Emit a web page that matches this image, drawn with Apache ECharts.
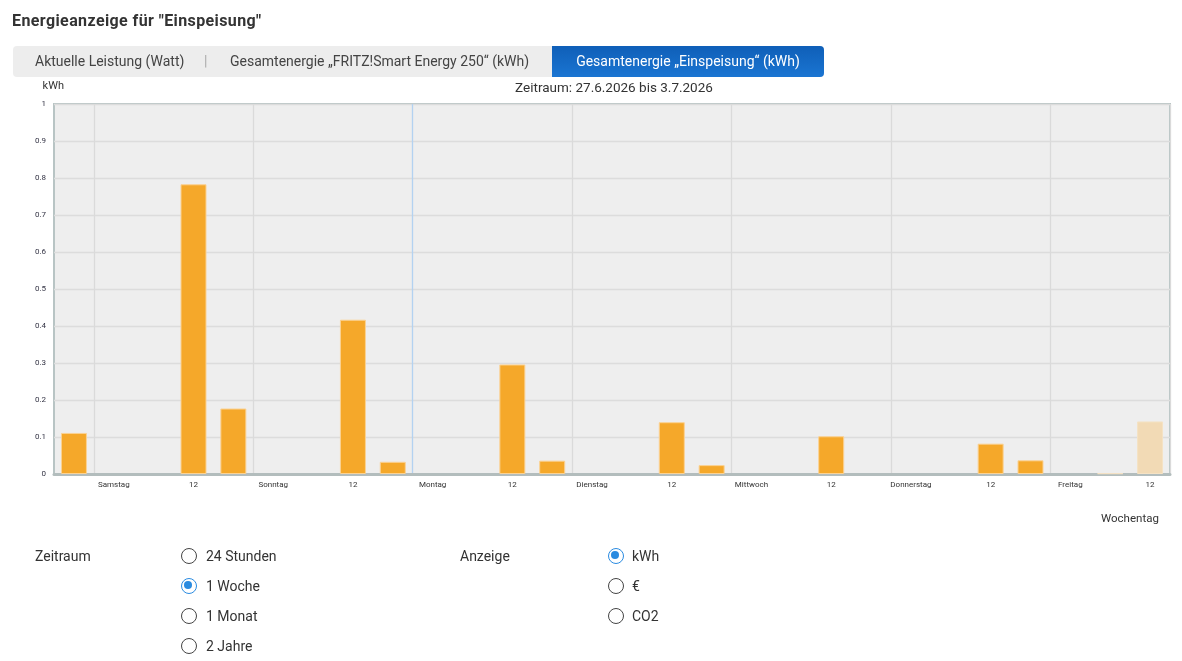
<!DOCTYPE html>
<html>
<head>
<meta charset="utf-8">
<script src="https://cdn.jsdelivr.net/npm/echarts@6/dist/echarts.min.js"></script>
<style>
  html, body { margin: 0; padding: 0; background: #fff; }
  body { width: 1182px; height: 661px; position: relative; overflow: hidden; font-family: Roboto, "Noto Sans", sans-serif; color: #333; }
  #chart { position: absolute; left: 0; top: 0; width: 1182px; height: 661px; }
  .abs { position: absolute; white-space: nowrap; }
  #title { left: 12px; top: 11px; font-size: 16px; font-weight: bold; color: #333; letter-spacing: 0.4px; }
  #tabbar { left: 13px; top: 46px; width: 811px; height: 31px; background: #ededed; border-radius: 4px; }
  .tab { top: 0; height: 31px; line-height: 31px; font-size: 14px; color: #444; }
  #tabActive { left: 539px; top: 0; width: 272px; height: 31px; border-radius: 0 4px 4px 0; background: linear-gradient(#0f5fb8, #1a75d2); color: #fff; text-align: center; line-height: 31px; font-size: 14px; }
  .lbl { font-size: 14px; color: #333; }
  .radio { width: 16px; height: 16px; border: 1.6px solid #444; border-radius: 50%; box-sizing: border-box; }
  .radio.on { border-color: #2a8be0; }
  .radio.on::after { content: ""; position: absolute; left: 2.4px; top: 2.4px; width: 8px; height: 8px; border-radius: 50%; background: #2a8be0; }
</style>
</head>
<body>
<div id="chart"></div>
<div id="title" class="abs">Energieanzeige für "Einspeisung"</div>
<div id="tabbar" class="abs">
  <div class="abs tab" style="left:22px;">Aktuelle Leistung (Watt)</div>
  <div class="abs tab" style="left:191px;color:#aaa;">|</div>
  <div class="abs tab" style="left:217px;">Gesamtenergie „FRITZ!Smart Energy 250“ (kWh)</div>
  <div id="tabActive" class="abs">Gesamtenergie „Einspeisung“ (kWh)</div>
</div>

<div class="abs lbl" style="left:35px;top:548px;">Zeitraum</div>
<div class="abs radio" style="left:181px;top:548px;"></div>
<div class="abs lbl" style="left:206px;top:548px;">24 Stunden</div>
<div class="abs radio on" style="left:181px;top:578px;"></div>
<div class="abs lbl" style="left:206px;top:578px;">1 Woche</div>
<div class="abs radio" style="left:181px;top:608px;"></div>
<div class="abs lbl" style="left:206px;top:608px;">1 Monat</div>
<div class="abs radio" style="left:181px;top:638px;"></div>
<div class="abs lbl" style="left:206px;top:638px;">2 Jahre</div>

<div class="abs lbl" style="left:460px;top:548px;">Anzeige</div>
<div class="abs radio on" style="left:608px;top:548px;"></div>
<div class="abs lbl" style="left:632px;top:548px;">kWh</div>
<div class="abs radio" style="left:608px;top:578px;"></div>
<div class="abs lbl" style="left:632px;top:578px;">€</div>
<div class="abs radio" style="left:608px;top:608px;"></div>
<div class="abs lbl" style="left:632px;top:608px;">CO2</div>

<script>
// 28 six-hour slots (27.6.2026 – 3.7.2026)
const slots = Array.from({length: 28}, (_, i) => 'slot' + i);
const tickLabels = ['', 'Samstag', '', '12', '', 'Sonntag', '', '12', '', 'Montag', '', '12', '', 'Dienstag', '', '12',
                    '', 'Mittwoch', '', '12', '', 'Donnerstag', '', '12', '', 'Freitag', '', '12'];
const values = [0.111, 0, 0, 0.783, 0.177, 0, 0, 0.417, 0.033, 0, 0, 0.296, 0.036, 0, 0, 0.140,
                0.024, 0, 0, 0.102, 0, 0, 0, 0.082, 0.037, 0, 0.002, 0.142];
const pendingSlots = [26, 27];
const yTicks = [0, 0.1, 0.2, 0.3, 0.4, 0.5, 0.6, 0.7, 0.8, 0.9, 1];
const periodText = 'Zeitraum: 27.6.2026 bis 3.7.2026';

const chart = echarts.init(document.getElementById('chart'));
const fontFam = 'Roboto, "Noto Sans", sans-serif';
chart.setOption({
  animation: false,
  title: [
    { text: periodText, left: 609, top: 77, textAlign: 'center',
      textStyle: { fontSize: 13.5, fontWeight: 'normal', color: '#333', fontFamily: fontFam } },
    { text: 'Wochentag', left: 1096, top: 508,
      textStyle: { fontSize: 11.5, fontWeight: 'normal', color: '#333', fontFamily: fontFam } }
  ],
  grid: { left: 54, top: 104, right: 12, bottom: 187, show: true, backgroundColor: '#eeeeee',
          borderColor: '#b8c4c4', borderWidth: 2 },
  xAxis: {
    type: 'category', data: slots, boundaryGap: true,
    axisLine: { show: true, lineStyle: { color: '#b3bdbd', width: 3 } },
    axisTick: { show: false },
    axisLabel: { interval: 0, formatter: (v, i) => tickLabels[i], fontSize: 8, color: '#333',
                 fontFamily: fontFam, margin: 7 },
    splitLine: { show: true, interval: (i) => i % 4 === 1,
                 lineStyle: { width: 1.3, color: ['#dadada', '#dadada', '#b3d2f1', '#dadada', '#dadada', '#dadada', '#dadada', '#dadada'] } }
  },
  yAxis: {
    type: 'value', min: 0, max: 1, interval: 0.1,
    name: 'kWh', nameLocation: 'end', nameGap: 12,
    nameTextStyle: { fontSize: 11, color: '#333', fontFamily: fontFam, align: 'right', padding: [0, -10, 0, 0] },
    axisLine: { show: false }, axisTick: { show: false },
    axisLabel: { fontSize: 8, color: '#334', fontFamily: fontFam, margin: 8,
                 formatter: (v) => String(yTicks.find(t => Math.abs(t - v) < 1e-9) ?? v) },
    splitLine: { show: true, lineStyle: { color: '#dcdcdc', width: 1.3 } }
  },
  series: [{
    type: 'bar', barWidth: 26,
    data: values.map((v, i) => {
      if (v === 0) return { value: v, itemStyle: { borderWidth: 0 } };
      if (pendingSlots.includes(i))
        return { value: v, itemStyle: { color: '#f2dab5', borderColor: '#f5e2c4', borderWidth: 1 } };
      return { value: v };
    }),
    itemStyle: { color: '#f5a82a', borderColor: '#fbd293', borderWidth: 1 }
  }]
});
</script>
</body>
</html>
